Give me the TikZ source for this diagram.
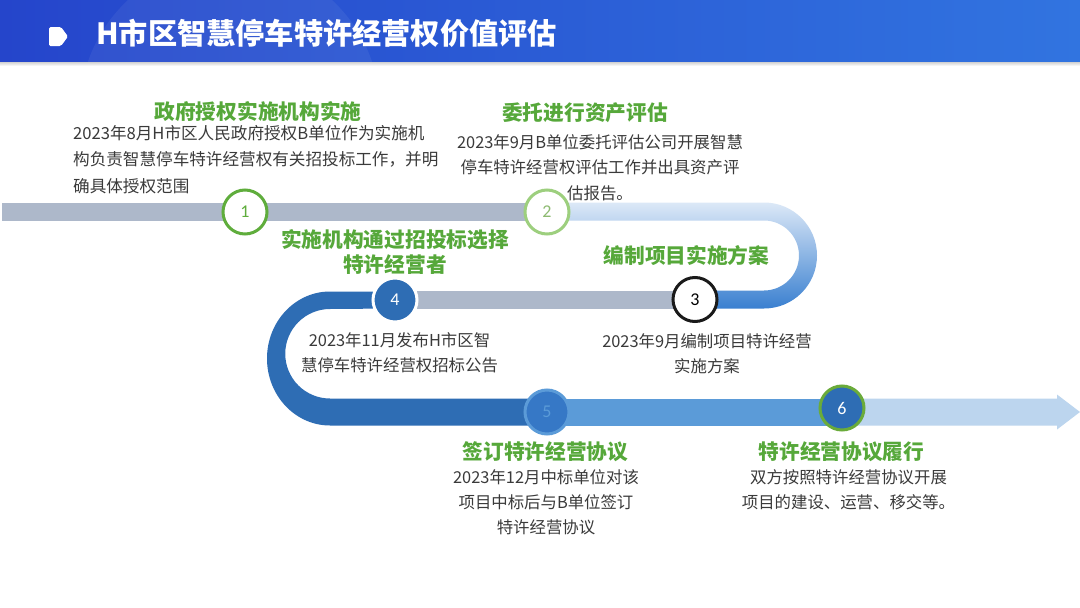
\documentclass[tikz,border=0pt]{standalone}
\usepackage{fontspec}
\setmainfont{Noto Sans CJK SC}
\newfontfamily\numfont{Carlito}
\definecolor{hdrL}{HTML}{2545CB}
\definecolor{hdrR}{HTML}{3174E0}
\definecolor{bandgray}{HTML}{ADB8CA}
\definecolor{dblue}{HTML}{2E6DB4}
\definecolor{mblue}{HTML}{5B9BD8}
\definecolor{lblue}{HTML}{BCD5EE}
\definecolor{curvetop}{HTML}{DCE9F7}
\definecolor{curvebot}{HTML}{3A7FD0}
\definecolor{c5fill}{HTML}{3678C6}
\definecolor{c6ring}{HTML}{6AAB3A}
\definecolor{c3ring}{HTML}{1A1A1A}
\definecolor{gtitle}{HTML}{56A83A}
\definecolor{bodygray}{HTML}{3A3A3A}
\definecolor{g1}{HTML}{5FAD3C}
\definecolor{g2}{HTML}{9DCF7E}
\tikzset{
  steptitle/.style={font=\fontsize{20.7}{25}\selectfont\bfseries, text=gtitle, inner sep=0pt, align=center},
  stepbody/.style={font=\fontsize{16.4}{25.5}\selectfont, text=bodygray, inner sep=0pt, align=center},
  numcircle/.style={circle, minimum size=44pt, inner sep=0pt, line width=3pt, font=\numfont\fontsize{18}{18}\selectfont}
}
\begin{document}
\begin{tikzpicture}[x=1pt,y=1pt]
\useasboundingbox (0,0) rectangle (1080,-608);
\fill[white] (0,0) rectangle (1080,-608);
% header
\shade[left color=hdrL, right color=hdrR] (0,0) rectangle (1080,-62);
\begin{scope}
  \clip (0,0) rectangle (1080,-62);
  \fill[white, opacity=0.06] (230,-110) circle (150);
\end{scope}
\shade[top color=black!18, bottom color=white] (0,-62) rectangle (1080,-66);
\fill[white, rounded corners=1.5pt] (49,-27) -- (61,-27) -- (68,-36.5) -- (61,-46) -- (49,-46) -- cycle;
\node[anchor=west, inner sep=0pt, text=white, font=\fontsize{29.2}{30}\selectfont\bfseries] (title) at (96,-33) {H市区智慧停车特许经营权价值评估};

% positions of the step markers
\coordinate (p1) at (245,-212);
\coordinate (p2) at (547,-212);
\coordinate (p3) at (695,-299.5);
\coordinate (p4) at (395,-300);
\coordinate (p5) at (547,-412);
\coordinate (p6) at (842,-408);
\coordinate (start) at (2,-211.5);
\coordinate (tip) at (1080,-412);

% bands
\fill[bandgray] (start |- 0,-202.5) rectangle (p2 |- 0,-220.5);
\shade[top color=curvetop, bottom color=curvebot]
  (p2 |- 0,-202.5) -- (764,-202.5) arc[start angle=90, end angle=-90, radius=53] -- (p3 |- 0,-308.5)
  -- (p3 |- 0,-290.5) -- (764,-290.5) arc[start angle=-90, end angle=90, radius=35] -- (p2 |- 0,-220.5) -- cycle;
\fill[bandgray] (p4 |- 0,-290.5) rectangle (p3 |- 0,-308.5);
\fill[dblue] (p4 |- 0,-291.5) -- (330,-291.5) arc[start angle=90, end angle=270, x radius=63, y radius=67]
  -- (p5 |- 0,-425.5) -- (p5 |- 0,-398.5) -- (330,-398.5) arc[start angle=270, end angle=90, radius=44.75]
  -- (p4 |- 0,-308.5) -- cycle;
\fill[mblue] (p5 |- 0,-398.5) rectangle (p6 |- 0,-425.5);
\fill[lblue] (p6 |- 0,-398.5) -- (1057,-398.5) -- (1057,-394.5) -- (tip) -- (1057,-429.5) -- (1057,-425.5) -- (p6 |- 0,-425.5) -- cycle;

% markers
\node[numcircle, draw=g1, fill=white, text=g1] (c1) at (p1) {1};
\node[numcircle, draw=g2, fill=white, text=g2!90!black] (c2) at (p2) {2};
\node[numcircle, draw=c3ring, fill=white, text=black] (c3) at (p3) {3};
\node[numcircle, draw=white, fill=dblue, text=white] (c4) at (p4) {4};
\node[numcircle, draw=mblue, fill=c5fill, text=mblue] (c5) at (p5) {5};
\node[numcircle, draw=c6ring, fill=dblue, text=white] (c6) at (p6) {6};

% texts
\node[steptitle] (t1) at (258,-112) {政府授权实施机构实施};
\node[stepbody, align=left, anchor=north west, font=\fontsize{16.6}{26.5}\selectfont] (b1) at (73,-125) {2023年8月H市区人民政府授权B单位作为实施机\\构负责智慧停车特许经营权有关招投标工作，并明\\确具体授权范围};
\node[steptitle] (t2) at (585,-113) {委托进行资产评估};
\node[stepbody, anchor=north] (b2) at (600,-134) {2023年9月B单位委托评估公司开展智慧\\停车特许经营权评估工作并出具资产评\\估报告。};
\node[steptitle] (t3) at (686.5,-256) {编制项目实施方案};
\node[stepbody, anchor=north] (b3) at (707,-333) {2023年9月编制项目特许经营\\实施方案};
\node[steptitle, anchor=north] (t4) at (395,-229.5) {实施机构通过招投标选择\\特许经营者};
\node[stepbody, anchor=north] (b4) at (399.5,-332) {2023年11月发布H市区智\\慧停车特许经营权招标公告};
\node[steptitle] (t5) at (545.5,-452) {签订特许经营协议};
\node[stepbody, anchor=north, font=\fontsize{16.4}{25}\selectfont] (b5) at (546,-469) {2023年12月中标单位对该\\项目中标后与B单位签订\\特许经营协议};
\node[steptitle] (t6) at (841.5,-452) {特许经营协议履行};
\node[stepbody, anchor=north, font=\fontsize{16.4}{25}\selectfont] (b6) at (848.5,-469) {双方按照特许经营协议开展\\项目的建设、运营、移交等。};
\end{tikzpicture}
\end{document}
